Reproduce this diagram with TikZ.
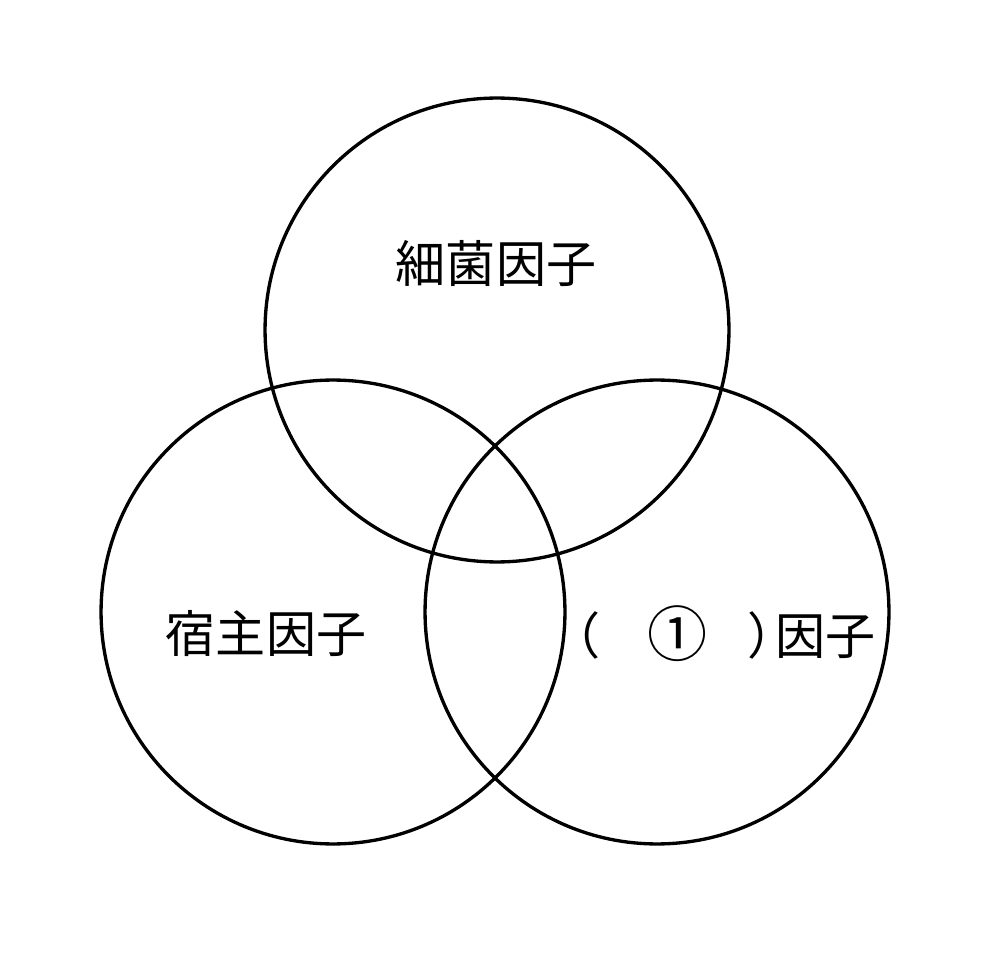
\documentclass[tikz,border=0pt]{standalone}
\usepackage{fontspec}
\newfontfamily\jpfont{Noto Sans CJK JP}
\usetikzlibrary{positioning}

\begin{document}
\begin{tikzpicture}[x=0.02cm, y=-0.02cm,
  venn/.style={line width=1.9pt, black},
  factor/.style={font=\jpfont\fontsize{28.5pt}{31pt}\selectfont, inner sep=0pt}]
\useasboundingbox (0,0) rectangle (1000,962);

% Circle centres
\coordinate (bact) at (497,330);
\coordinate (host) at (333,612);
\coordinate (third) at (657,612);

% Circles
\draw[venn] (bact) circle[radius=4.64cm];
\draw[venn] (host) circle[radius=4.64cm];
\draw[venn] (third) circle[radius=4.64cm];

% Labels
\node[factor] (bactlabel) at (496,264) {細菌因子};
\node[factor] (hostlabel) at (266,634) {宿主因子};
\node[factor, anchor=east] (thirdlabel) at (876,634)
  {（\hspace{0.95em}\raisebox{-0.05em}{\scalebox{1.2}{①}}\hspace{0.8em}）\hspace{-0.45em}因子};
\end{tikzpicture}
\end{document}
